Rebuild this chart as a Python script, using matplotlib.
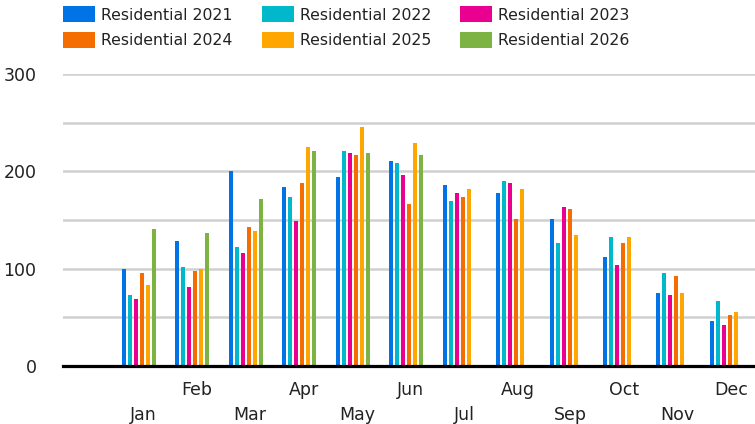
import matplotlib
matplotlib.use("Agg")
import matplotlib.pyplot as plt
import matplotlib.font_manager as fm
import numpy as np
from matplotlib.patches import Patch

months = ["Jan", "Feb", "Mar", "Apr", "May", "Jun", "Jul", "Aug", "Sep", "Oct", "Nov", "Dec"]
series_names = ["Residential 2021", "Residential 2022", "Residential 2023",
                "Residential 2024", "Residential 2025", "Residential 2026"]
res_2021 = [100, 128, 200, 184, 194, 211, 186, 178, 151, 112, 75, 46]
res_2022 = [73, 102, 122, 174, 221, 209, 170, 190, 126, 133, 96, 67]
res_2023 = [69, 81, 116, 149, 219, 196, 178, 188, 163, 104, 73, 42]
res_2024 = [96, 98, 143, 188, 217, 166, 174, 151, 161, 126, 92, 52]
res_2025 = [83, 100, 139, 225, 246, 229, 182, 182, 135, 133, 75, 55]
res_2026 = [141, 137, 172, 221, 219, 217, None, None, None, None, None, None]
colors = ["#0073e6", "#00b8cc", "#ea0090", "#f56c00", "#ffa600", "#7db343"]

series = [res_2021, res_2022, res_2023, res_2024, res_2025, res_2026]

W, H = 755, 424
fig = plt.figure(figsize=(W / 100, H / 100), dpi=100)
ax = fig.add_axes([63 / W, 1 - 366 / H, (755 - 63) / W, (366 - 74) / H])

x = np.arange(len(months))
pitch = 6 / 53.45
bw = 4 / 53.45
for i, (vals, c) in enumerate(zip(series, colors)):
    xs = [xi + (i - 2.5) * pitch for xi, v in zip(x, vals) if v is not None]
    vs = [v for v in vals if v is not None]
    ax.bar(xs, vs, width=bw, color=c, zorder=3)

ax.set_xlim(-1.422, 11.525)
ax.set_ylim(0, 300)
ax.set_yticks([0, 100, 200, 300])
ax.set_yticks([50, 150, 250], minor=True)
ax.grid(axis="y", which="both", color="#d0d0d0", linewidth=1.8, zorder=0)
ax.tick_params(axis="y", which="both", length=0, pad=19, labelsize=12.5, labelcolor="#222222")
for s in ["top", "right", "left"]:
    ax.spines[s].set_visible(False)
ax.spines["bottom"].set_linewidth(2.3)
ax.spines["bottom"].set_color("black")
ax.spines["bottom"].set_zorder(5)

off = 0.08
ax.set_xticks(x[::2] + off)
ax.set_xticklabels(months[::2])
ax.set_xticks(x[1::2] + off, minor=True)
ax.set_xticklabels(months[1::2], minor=True)
ax.tick_params(axis="x", which="major", length=0, pad=29, labelsize=12.5, labelcolor="#222222")
ax.tick_params(axis="x", which="minor", length=0, pad=11, labelsize=12.5, labelcolor="#222222")

size_pt = 11.3
fpx = size_pt * 100 / 72
prop = fm.FontProperties(family="DejaVu Sans", size=size_pt)

order = [0, 3, 1, 4, 2, 5]
handles = [Patch(facecolor=colors[k], edgecolor="none") for k in order]
labels = [series_names[k] for k in order]
fig.legend(handles, labels, ncols=3, loc="upper left",
           bbox_to_anchor=(63 / W, 1 - 6.5 / H), frameon=False, prop=prop,
           handlelength=32 / fpx, handleheight=18 / fpx, handletextpad=6 / fpx,
           columnspacing=29 / fpx, labelspacing=0.6, borderpad=0,
           borderaxespad=0, labelcolor="#222222")

fig.savefig("out.png", dpi=100)
